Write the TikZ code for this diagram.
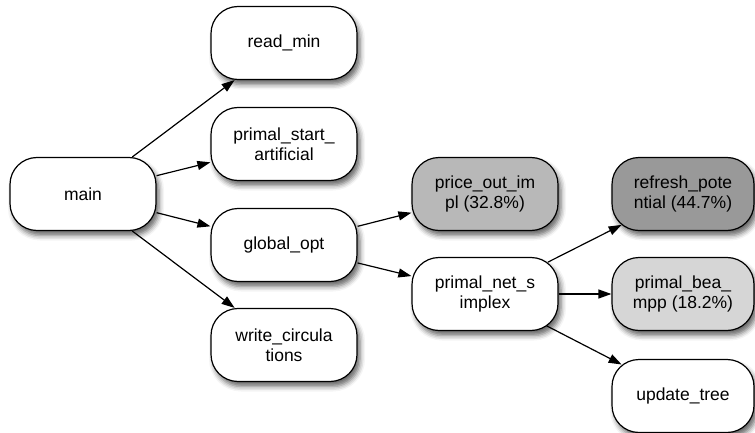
\documentclass[tikz,border=0pt]{standalone}
\usepackage{fontspec}
\setmainfont{Liberation Sans}
\usetikzlibrary{arrows.meta,shadows.blur}
\begin{document}
\begin{tikzpicture}[x=1pt,y=-1pt,
  fn/.style={rectangle, rounded corners=27pt,
    draw=black, line width=1.2pt, fill=white,
    minimum width=146pt, minimum height=73pt, inner sep=0pt,
    align=center, font=\fontsize{17.5}{20}\selectfont,
    blur shadow={shadow xshift=3pt, shadow yshift=-5pt,
      shadow blur radius=5pt, shadow opacity=60}},
  fnr/.style={fn, minimum width=142pt},
  call/.style={draw=black, line width=1.2pt, sharp corners,
    -{Triangle[length=13pt,width=9pt]}},
  % edges that meet the rounded corners at both ends
  corner/.style={shorten <=-11.5pt, shorten >=-11.5pt}]
\useasboundingbox (0,0) rectangle (755,433);

% call graph nodes
\node[fn] (main) at (83,194) {main};
\node[fn] (readmin) at (284,43) {read\_min};
\node[fn] (pstart) at (284,144) {primal\_start\_\\artificial};
\node[fn] (gopt) at (284,245) {global\_opt};
\node[fn] (wcirc) at (284,345) {write\_circula\\tions};
\node[fn, fill={rgb,255:red,184;green,184;blue,184}] (price) at (485,194) {price\_out\_im\\pl (32.8\%)};
\node[fn] (pnet) at (485,294) {primal\_net\_s\\implex};
\node[fnr, fill={rgb,255:red,153;green,153;blue,153}] (refresh) at (683,194) {refresh\_pote\\ntial (44.7\%)};
\node[fnr, fill={rgb,255:red,214;green,214;blue,214}] (pbea) at (683,294) {primal\_bea\_\\mpp (18.2\%)};
\node[fnr] (utree) at (683,396) {update\_tree};

% calls
\draw[call] (main) -- (readmin);
\draw[call] (main) -- (pstart);
\draw[call] (main) -- (gopt);
\draw[call] (main) -- (wcirc);
\draw[call] (gopt) -- (price);
\draw[call] (gopt) -- (pnet);
\draw[call, corner] (pnet) -- (refresh);
\draw[call] (pnet) -- (pbea);
\draw[call, corner] (pnet) -- (utree);
\end{tikzpicture}
\end{document}
